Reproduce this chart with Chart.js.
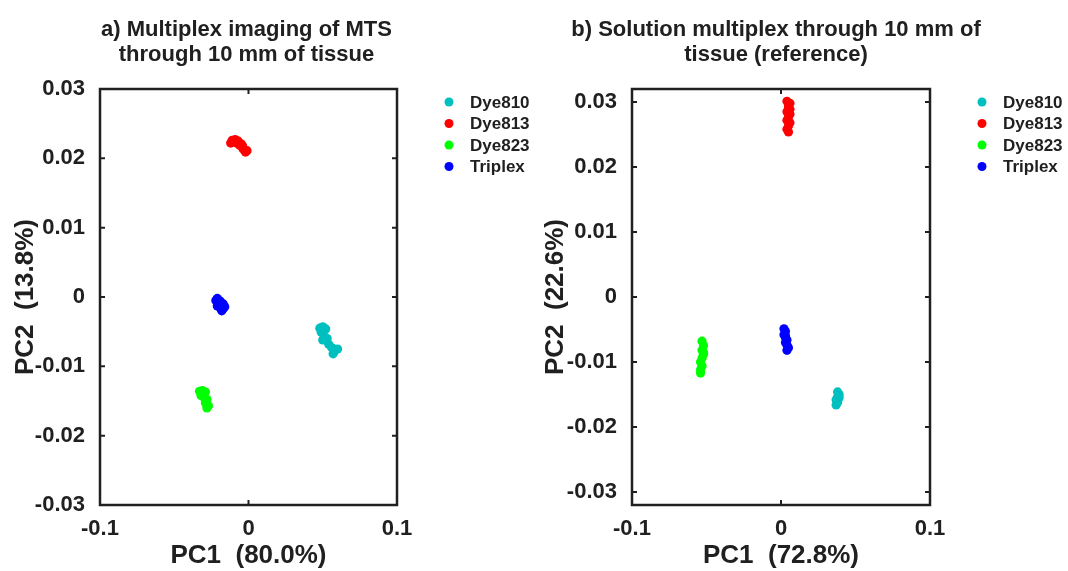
<!DOCTYPE html>
<html>
<head>
<meta charset="utf-8">
<script src="https://cdn.jsdelivr.net/npm/chart.js@4"></script>
<style>
  html, body { margin: 0; padding: 0; background: #fff; }
  #wrap { position: relative; width: 1068px; height: 571px; }
  canvas { position: absolute; top: 0; }
  #cA { left: 0; }
  #cB { left: 530px; }
</style>
</head>
<body>
<div id="wrap">
  <canvas id="cA" width="530" height="571"></canvas>
  <canvas id="cB" width="538" height="571"></canvas>
</div>
<script>
const seriesNames = ["Dye810", "Dye813", "Dye823", "Triplex"];
const seriesColors = ["#00BFBF", "#FF0000", "#00FF00", "#0000FF"];
const xTicks = [-0.1, 0, 0.1];
const yTicks = [-0.03, -0.02, -0.01, 0, 0.01, 0.02, 0.03];

// panel a) - multiplex imaging through tissue
const a810x = [0.048, 0.050, 0.052, 0.049, 0.051, 0.050, 0.053, 0.054, 0.056, 0.058, 0.060, 0.057];
const a810y = [-0.0045, -0.0043, -0.0046, -0.0051, -0.0057, -0.0062, -0.0060, -0.0068, -0.0073, -0.0078, -0.0075, -0.0082];
const a813x = [-0.012, -0.011, -0.009, -0.008, -0.007, -0.006, -0.005, -0.004, -0.003, -0.002, -0.001, -0.004];
const a813y = [0.0222, 0.0226, 0.0227, 0.0222, 0.0225, 0.0219, 0.0221, 0.0215, 0.0212, 0.0209, 0.0211, 0.0218];
const a823x = [-0.033, -0.031, -0.029, -0.032, -0.030, -0.028, -0.029, -0.027, -0.028, -0.031];
const a823y = [-0.0136, -0.0135, -0.0137, -0.0142, -0.0145, -0.0148, -0.0153, -0.0157, -0.0160, -0.0140];
const aTripx = [-0.022, -0.021, -0.020, -0.021, -0.019, -0.017, -0.018, -0.016, -0.019, -0.017];
const aTripy = [-0.0005, -0.0002, -0.0009, -0.0013, -0.0016, -0.0017, -0.0020, -0.0014, -0.0006, -0.0010];

// panel b) - solution reference
const b810x = [0.038, 0.039, 0.038, 0.037, 0.038, 0.037, 0.039];
const b810y = [-0.0146, -0.0150, -0.0154, -0.0158, -0.0162, -0.0166, -0.0155];
const b813x = [0.004, 0.006, 0.005, 0.006, 0.004, 0.006, 0.005, 0.004, 0.006, 0.005, 0.004, 0.005];
const b813y = [0.0301, 0.0298, 0.0293, 0.0289, 0.0285, 0.0281, 0.0277, 0.0272, 0.0268, 0.0263, 0.0258, 0.0254];
const b823x = [-0.053, -0.052, -0.053, -0.052, -0.053, -0.054, -0.053, -0.054, -0.054, -0.052];
const b823y = [-0.0068, -0.0075, -0.0082, -0.0088, -0.0094, -0.0100, -0.0106, -0.0112, -0.0117, -0.0085];
const bTripx = [0.002, 0.003, 0.002, 0.003, 0.004, 0.003, 0.004, 0.005, 0.004, 0.003];
const bTripy = [-0.0049, -0.0053, -0.0058, -0.0062, -0.0066, -0.0070, -0.0074, -0.0078, -0.0082, -0.0060];

const FONT = "'Liberation Sans', Arial, sans-serif";
const INK = "#202020";

function pts(xs, ys) {
  return xs.map((x, i) => ({ x: x, y: ys[i] }));
}

function fmt(v) {
  return v === 0 ? "0" : String(+v.toFixed(2));
}

// frame with inward ticks, two-line title and legend, like the matlab figure
const panelDecor = {
  id: "panelDecor",
  afterDraw(chart, args, opts) {
    const { ctx, chartArea: a, scales: { x, y } } = chart;
    ctx.save();
    ctx.strokeStyle = INK;
    ctx.lineWidth = 2.5;
    ctx.strokeRect(a.left, a.top, a.right - a.left, a.bottom - a.top);

    ctx.lineWidth = 2;
    ctx.beginPath();
    x.ticks.forEach(t => {
      const px = x.getPixelForValue(t.value);
      ctx.moveTo(px, a.bottom); ctx.lineTo(px, a.bottom - 5);
      ctx.moveTo(px, a.top); ctx.lineTo(px, a.top + 5);
    });
    y.ticks.forEach(t => {
      const py = y.getPixelForValue(t.value);
      ctx.moveTo(a.left, py); ctx.lineTo(a.left + 5, py);
      ctx.moveTo(a.right, py); ctx.lineTo(a.right - 5, py);
    });
    ctx.stroke();

    ctx.fillStyle = INK;
    ctx.font = "bold 22px " + FONT;
    ctx.textAlign = "center";
    ctx.textBaseline = "alphabetic";
    const cx = (a.left + a.right) / 2 + opts.titleShift;
    opts.title.forEach((line, i) => ctx.fillText(line, cx, 36 + i * 25));

    ctx.font = "bold 17px " + FONT;
    ctx.textAlign = "left";
    ctx.textBaseline = "middle";
    chart.data.datasets.forEach((ds, i) => {
      const yy = a.top + 13 + i * 21.5;
      ctx.fillStyle = ds.backgroundColor;
      ctx.beginPath();
      ctx.arc(a.right + 52, yy, 4.5, 0, Math.PI * 2);
      ctx.fill();
      ctx.fillStyle = INK;
      ctx.fillText(ds.label, a.right + 73, yy + 1);
    });
    ctx.restore();
  }
};

function makePanel(id, title, titleShift, xLabel, yLabel, yMin, yMax, padRight, yWidth, series) {
  const tickFont = { family: FONT, size: 22, weight: "bold" };
  const axisFont = { family: FONT, size: 26, weight: "bold", lineHeight: 1.2 };
  return new Chart(document.getElementById(id), {
    type: "scatter",
    data: {
      datasets: series.map((s, i) => ({
        label: seriesNames[i],
        data: s,
        backgroundColor: seriesColors[i],
        borderWidth: 0,
        pointRadius: 4.6
      }))
    },
    options: {
      responsive: false,
      animation: false,
      devicePixelRatio: 1,
      layout: { padding: { top: 89, right: padRight, left: 0, bottom: 0 } },
      plugins: {
        legend: { display: false },
        tooltip: { enabled: false },
        panelDecor: { title: title, titleShift: titleShift }
      },
      scales: {
        x: {
          type: "linear",
          min: -0.1,
          max: 0.1,
          afterFit: s => { s.height = 66; },
          afterBuildTicks: s => { s.ticks = xTicks.map(v => ({ value: v })); },
          grid: { display: false },
          border: { display: false },
          ticks: { padding: 3, color: INK, font: tickFont, callback: fmt, maxRotation: 0, autoSkip: false },
          title: { display: true, text: xLabel, color: INK, font: axisFont, padding: { top: 0, bottom: 0 } }
        },
        y: {
          type: "linear",
          min: yMin,
          max: yMax,
          afterFit: s => { s.width = yWidth; },
          afterBuildTicks: s => { s.ticks = yTicks.map(v => ({ value: v })); },
          grid: { display: false },
          border: { display: false },
          ticks: { padding: 7, color: INK, font: tickFont, callback: fmt, autoSkip: false },
          title: { display: true, text: yLabel, color: INK, font: axisFont, padding: { top: 10, bottom: 0 } }
        }
      }
    },
    plugins: [panelDecor]
  });
}

makePanel("cA", ["a) Multiplex imaging of MTS", "through 10 mm of tissue"], -2,
  "PC1  (80.0%)", "PC2  (13.8%)", -0.03, 0.03, 133, 100,
  [pts(a810x, a810y), pts(a813x, a813y), pts(a823x, a823y), pts(aTripx, aTripy)]);

makePanel("cB", ["b) Solution multiplex through 10 mm of", "tissue (reference)"], -5,
  "PC1  (72.8%)", "PC2  (22.6%)", -0.032, 0.032, 138, 102,
  [pts(b810x, b810y), pts(b813x, b813y), pts(b823x, b823y), pts(bTripx, bTripy)]);
</script>
</body>
</html>
